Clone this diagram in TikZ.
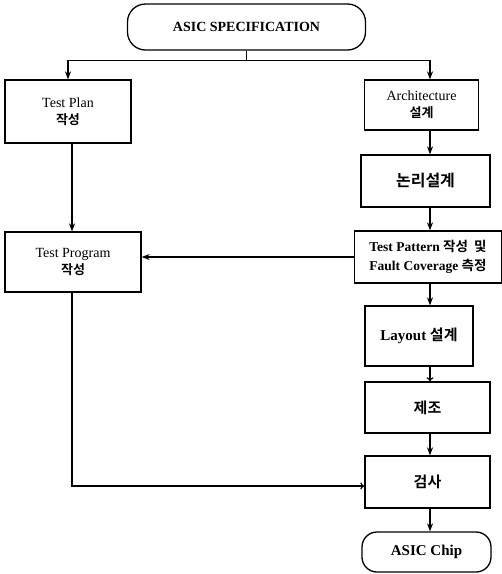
\documentclass[tikz,border=0pt]{standalone}
\usepackage{fontspec}
\setmainfont{Liberation Serif}
\newfontfamily\kr{Noto Sans CJK KR}[BoldFont={* Bold}]
\usetikzlibrary{arrows.meta}
\begin{document}
\begin{tikzpicture}[x=1pt,y=-1pt,
  box/.style={draw,line width=1.3pt,inner sep=0pt,align=center,font=\fontsize{14}{17}\selectfont},
  term/.style={box,rounded corners=18pt},
  arr/.style={line width=1.2pt,-{Stealth[length=8pt,width=6pt]}},
  arro/.style={line width=1.2pt,-{To[length=4pt,width=7pt]}},
  ln/.style={line width=1.2pt}]
\useasboundingbox (0,0) rectangle (502,574);
% left and right flow columns
\coordinate (lx) at (72,0);
\coordinate (rx) at (430,0);
\node[term,minimum width=238pt,minimum height=46pt,font=\fontsize{14}{17}\selectfont\bfseries] (spec) at (246.5,27) {ASIC SPECIFICATION};
\node[box,minimum width=126pt,minimum height=63pt] (plan) at (68,111.5) {Test Plan\\{\kr\bfseries\fontsize{13}{17}\selectfont 작성}};
\node[box,minimum width=114pt,minimum height=50pt] (arch) at (421.5,105) {Architecture\\{\kr\bfseries\fontsize{13}{17}\selectfont 설계}};
\node[box,minimum width=129pt,minimum height=52pt,font=\kr\bfseries\fontsize{16}{18}\selectfont] (logic) at (425.5,181) {논리설계};
\node[box,minimum width=136pt,minimum height=60pt] (prog) at (73,262) {Test Program\\{\kr\bfseries\fontsize{13}{17}\selectfont 작성}};
\node[box,minimum width=147pt,minimum height=52pt,font=\fontsize{13.5}{19}\selectfont\bfseries] (patt) at (428,257) {Test Pattern {\kr 작성 \ 및}\\Fault Coverage {\kr 측정}};
\node[box,minimum width=108pt,minimum height=60pt,font=\fontsize{15}{18}\selectfont\bfseries] (lay) at (419,336) {Layout {\kr 설계}};
\node[box,minimum width=125pt,minimum height=51pt,font=\kr\bfseries\fontsize{15}{18}\selectfont] (fab) at (427.5,407.5) {제조};
\node[box,minimum width=125pt,minimum height=52pt,font=\kr\bfseries\fontsize{15}{18}\selectfont] (chk) at (427.5,482) {검사};
\node[term,rounded corners=15pt,minimum width=129pt,minimum height=40pt,font=\fontsize{15}{18}\selectfont\bfseries] (chip) at (426.5,552) {ASIC Chip};
% split below the specification
\coordinate (split) at ([yshift=-10pt]spec.south);
\draw[ln] (spec.south) -- (split);
\draw[arr] (split) -| (plan.north);
\draw[arr] (split) -| (arch.north -| rx);
% right column
\draw[arr] (arch.south -| rx) -- (logic.north -| rx);
\draw[arr] (logic.south -| rx) -- (patt.north -| rx);
\draw[arr] (patt.south -| rx) -- (lay.north -| rx);
\draw[arro] (lay.south -| rx) -- (fab.north -| rx);
\draw[arr] (fab.south -| rx) -- (chk.north -| rx);
\draw[arr] (chk.south -| rx) -- (chip.north -| rx);
% left column
\draw[arr] (plan.south -| lx) -- (prog.north -| lx);
\draw[arr] (patt.west) -- (patt.west -| prog.east);
\coordinate (turn) at (prog.south -| lx);
\draw[arro] (turn) |- ([yshift=-4pt]chk.west);
\end{tikzpicture}
\end{document}
